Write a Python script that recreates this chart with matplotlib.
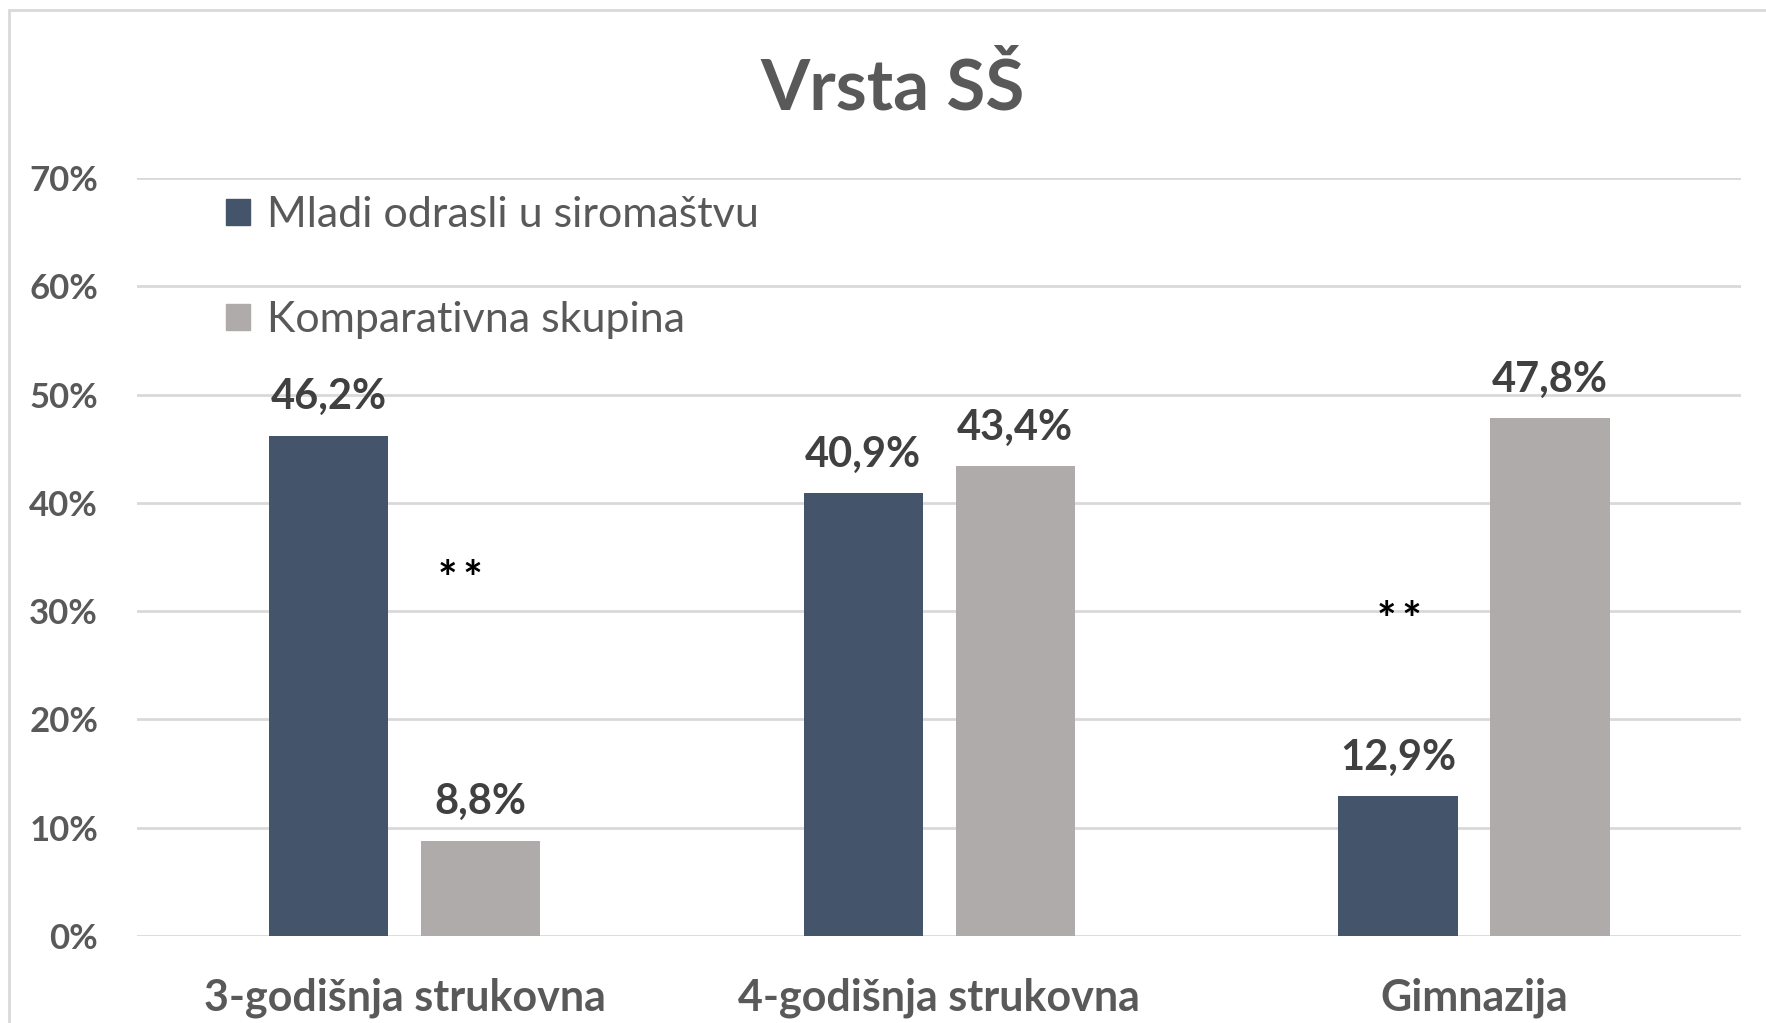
import matplotlib
matplotlib.use("Agg")
import matplotlib.pyplot as plt
import numpy as np
from matplotlib.patches import Patch, Rectangle

# podaci
categories = ["3-godišnja strukovna", "4-godišnja strukovna", "Gimnazija"]
series_names = ["Mladi odrasli u siromaštvu", "Komparativna skupina"]
mladi = [46.2, 40.9, 12.9]
komparativna = [8.8, 43.4, 47.8]
y_ticks = [0, 10, 20, 30, 40, 50, 60, 70]
# oznake značajnosti (kategorija, visina)
sig_marks = [(0.105, 32.8), (1.86, 29.0)]

DARK = "#44546A"
GRAY = "#AFABAB"
TEXT = "#595959"
LABEL = "#404040"
GRID = "#D9D9D9"

plt.rcParams["font.family"] = ["Lato", "DejaVu Sans"]


def fmt_pct(v):
    return f"{v:.1f}%".replace(".", ",")


def main():
    fig = plt.figure(figsize=(17.66, 10.23), dpi=100)
    ax = fig.add_axes([0.0776, 0.085, 0.9085, 0.741])

    # okvir grafikona
    fig.patches.append(Rectangle((9 / 1766, -0.01), 1.0, 1 - 10 / 1023 + 0.01,
                                 transform=fig.transFigure, fill=False,
                                 edgecolor=GRID, linewidth=2))

    x = np.arange(len(categories))
    w = 0.223
    off = 0.142
    b1 = ax.bar(x - off, mladi, w, color=DARK, label=series_names[0], zorder=3)
    b2 = ax.bar(x + off, komparativna, w, color=GRAY, label=series_names[1], zorder=3)

    for bars, vals in ((b1, mladi), (b2, komparativna)):
        ax.bar_label(bars, labels=[fmt_pct(v) for v in vals], padding=14,
                     fontsize=30, fontweight="bold", color=LABEL)

    for sx, sy in sig_marks:
        ax.text(sx, sy, "*\u2009*", ha="center", va="center", fontsize=33,
                fontweight="bold", color="black")

    ax.set_xlim(-0.5, len(categories) - 0.5)
    ax.set_ylim(0, 70)
    ax.set_yticks(y_ticks)
    ax.set_yticklabels([f"{t}%" for t in y_ticks])
    ax.set_xticks(x)
    ax.set_xticklabels(categories)
    ax.tick_params(axis="y", length=0, pad=28, labelsize=25, labelcolor=TEXT)
    ax.tick_params(axis="x", length=0, pad=30, labelsize=31, labelcolor=TEXT)
    for lab in ax.get_yticklabels() + ax.get_xticklabels():
        lab.set_fontweight("bold")

    ax.yaxis.grid(True, color=GRID, linewidth=2, zorder=0)
    ax.set_axisbelow(True)
    for s in ax.spines.values():
        s.set_visible(False)

    fig.text(893 / 1766, 1 - 89 / 1023, "Vrsta SŠ", ha="center", va="center",
             fontsize=51, fontweight="bold", color=TEXT)

    handles = [Patch(color=DARK), Patch(color=GRAY)]
    ax.legend(handles, series_names, loc="upper left",
              bbox_to_anchor=(226 / 1766, 1 - 196 / 1023), bbox_transform=fig.transFigure,
              frameon=False, fontsize=31, labelcolor=TEXT, labelspacing=1.56,
              handlelength=0.55, handleheight=0.55, handletextpad=0.4, borderpad=0,
              borderaxespad=0)

    fig.savefig("out.png", dpi=100)
    plt.close(fig)


if __name__ == "__main__":
    main()
